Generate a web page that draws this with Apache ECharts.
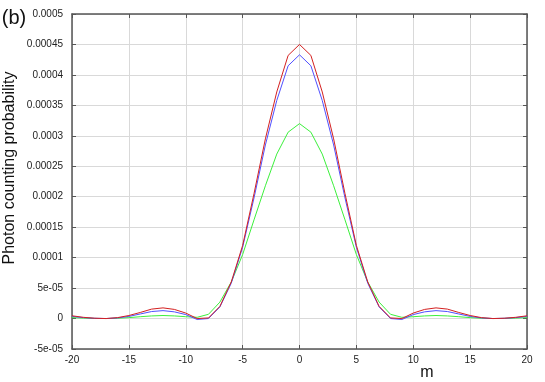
<!DOCTYPE html>
<html>
<head>
<meta charset="utf-8">
<script src="https://cdn.jsdelivr.net/npm/echarts@6/dist/echarts.min.js"></script>
<style>
  html, body { margin: 0; padding: 0; background: #fff; }
  #chart { width: 545px; height: 382px; }
</style>
</head>
<body>
<div id="chart"></div>
<script>
const mValues = [-20, -19, -18, -17, -16, -15, -14, -13, -12, -11, -10, -9, -8, -7, -6, -5, -4, -3, -2, -1,
  0, 1, 2, 3, 4, 5, 6, 7, 8, 9, 10, 11, 12, 13, 14, 15, 16, 17, 18, 19, 20]

const redProb = [4.5e-6, 2e-6, 5e-7, 0, 1.5e-6, 5e-6, 1.0e-5, 1.55e-5, 1.75e-5, 1.5e-5, 9e-6, 0, 1e-6, 2.0e-5,
  6.0e-5, 1.2e-4, 2.05e-4, 2.95e-4, 3.72e-4, 4.32e-4, 4.5e-4, 4.32e-4, 3.72e-4, 2.95e-4, 2.05e-4, 1.2e-4,
  6.0e-5, 2.0e-5, 1e-6, 0, 9e-6, 1.5e-5, 1.75e-5, 1.55e-5, 1.0e-5, 5e-6, 1.5e-6, 0, 5e-7, 2e-6, 4.5e-6]

const blueProb = [3.5e-6, 1.5e-6, 4e-7, 0, 1e-6, 3.5e-6, 7.5e-6, 1.15e-5, 1.3e-5, 1.1e-5, 6.5e-6, -1.5e-6, 0,
  1.9e-5, 5.8e-5, 1.17e-4, 1.98e-4, 2.85e-4, 3.58e-4, 4.15e-4, 4.33e-4, 4.15e-4, 3.58e-4, 2.85e-4, 1.98e-4,
  1.17e-4, 5.8e-5, 1.9e-5, 0, -1.5e-6, 6.5e-6, 1.1e-5, 1.3e-5, 1.15e-5, 7.5e-6, 3.5e-6, 1e-6, 0, 4e-7, 1.5e-6, 3.5e-6]

const greenProb = [1.5e-6, 7e-7, 2e-7, 0, 5e-7, 1.5e-6, 3e-6, 4.3e-6, 5e-6, 4.3e-6, 3e-6, 2e-6, 7e-6, 2.7e-5,
  6.0e-5, 1.05e-4, 1.62e-4, 2.18e-4, 2.7e-4, 3.06e-4, 3.2e-4, 3.06e-4, 2.7e-4, 2.18e-4, 1.62e-4, 1.05e-4,
  6.0e-5, 2.7e-5, 7e-6, 2e-6, 3e-6, 4.3e-6, 5e-6, 4.3e-6, 3e-6, 1.5e-6, 5e-7, 0, 2e-7, 7e-7, 1.5e-6]

const yTickLabels = ['-5e-05', '0', '5e-05', '0.0001', '0.00015', '0.0002', '0.00025', '0.0003',
  '0.00035', '0.0004', '0.00045', '0.0005']

const FONT = '"Liberation Sans", Arial, sans-serif'
const AXIS_COLOR = '#555'
const GRID_COLOR = '#d9d9d9'

const pairs = vals => mValues.map((m, i) => [m, vals[i]])

const axisBase = {
  axisLine: { show: true, onZero: false, lineStyle: { color: AXIS_COLOR, width: 1.5 } },
  axisTick: { show: true, inside: true, length: 4, lineStyle: { color: AXIS_COLOR, width: 1 } }
}

const chart = echarts.init(document.getElementById('chart'))

chart.setOption({
  animation: false,
  backgroundColor: '#fff',
  grid: { left: 72, right: 18, top: 14, bottom: 33 },
  xAxis: [
    {
      ...axisBase,
      type: 'value', position: 'bottom', min: -20, max: 20, interval: 5,
      axisLabel: { fontFamily: FONT, fontSize: 10, color: '#222', margin: 6 },
      splitLine: { show: true, lineStyle: { color: GRID_COLOR, width: 1 } }
    },
    {
      ...axisBase,
      type: 'value', position: 'top', min: -20, max: 20, interval: 5,
      axisLabel: { show: false }, splitLine: { show: false }
    }
  ],
  yAxis: [
    {
      ...axisBase,
      type: 'value', position: 'left', min: -5e-5, max: 5e-4, interval: 5e-5,
      axisLabel: {
        fontFamily: FONT, fontSize: 10, color: '#222', margin: 9,
        formatter: v => yTickLabels[Math.round(v / 5e-5) + 1] ?? ''
      },
      splitLine: { show: true, lineStyle: { color: GRID_COLOR, width: 1 } }
    },
    {
      ...axisBase,
      type: 'value', position: 'right', min: -5e-5, max: 5e-4, interval: 5e-5,
      axisLabel: { show: false }, splitLine: { show: false }
    }
  ],
  series: [
    { name: 'green', data: pairs(greenProb), color: '#3cf03c' },
    { name: 'blue', data: pairs(blueProb), color: '#5050ff' },
    { name: 'red', data: pairs(redProb), color: '#d42020' }
  ].map(s => ({
    ...s,
    type: 'line',
    xAxisIndex: 0,
    yAxisIndex: 0,
    showSymbol: false,
    lineStyle: { width: 1 }
  })),
  graphic: [
    {
      type: 'text', x: 14, y: 18,
      style: { text: '(b)', font: '20px ' + FONT, fill: '#111', textAlign: 'center', textVerticalAlign: 'middle' }
    },
    {
      type: 'text', x: 10, y: 168, rotation: Math.PI / 2,
      style: {
        text: 'Photon counting probability', font: '16px ' + FONT, fill: '#111',
        textAlign: 'center', textVerticalAlign: 'middle'
      }
    },
    {
      type: 'text', x: 427, y: 373,
      style: { text: 'm', font: '16px ' + FONT, fill: '#111', textAlign: 'center', textVerticalAlign: 'middle' }
    }
  ]
})
</script>
</body>
</html>
